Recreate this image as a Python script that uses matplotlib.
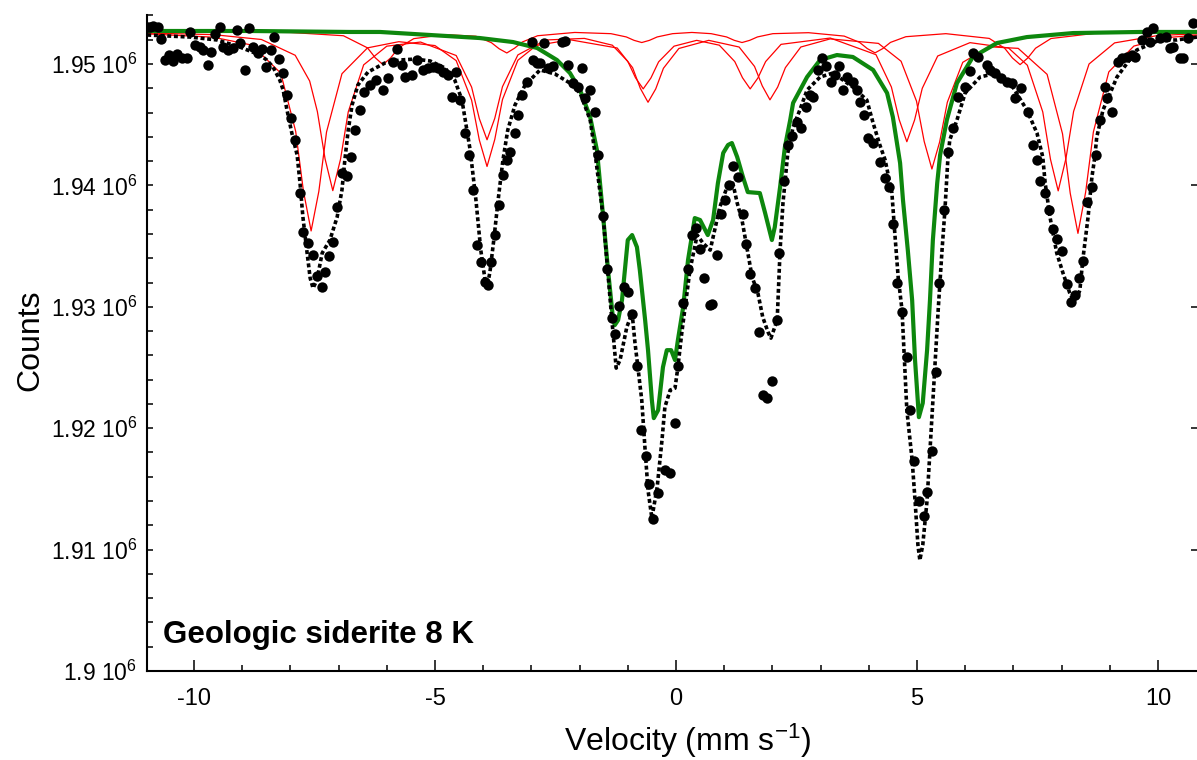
import matplotlib
matplotlib.use("Agg")
import matplotlib.pyplot as plt
from matplotlib.ticker import MultipleLocator, FuncFormatter

plt.rcParams['font.family'] = ['Liberation Sans', 'DejaVu Sans']
plt.rcParams['mathtext.default'] = 'regular'
plt.rcParams['axes.unicode_minus'] = False

# counts are stored in thousands

# measured spectrum (dots)
dot_vel = [-10.98, -10.91, -10.85, -10.75, -10.68, -10.60, -10.52, -10.44, -10.35, -10.25,
           -10.15, -10.08, -9.98, -9.88, -9.81, -9.71, -9.65, -9.56, -9.46, -9.40,
           -9.29, -9.19, -9.11, -9.05, -8.94, -8.86, -8.78, -8.67, -8.59, -8.51,
           -8.40, -8.34, -8.24, -8.15, -8.07, -7.99, -7.90, -7.80, -7.74, -7.63,
           -7.53, -7.45, -7.34, -7.28, -7.20, -7.12, -7.03, -6.93, -6.83, -6.74,
           -6.66, -6.56, -6.47, -6.35, -6.22, -6.08, -5.98, -5.87, -5.79, -5.68,
           -5.62, -5.48, -5.37, -5.25, -5.15, -5.04, -4.94, -4.83, -4.73, -4.65,
           -4.56, -4.48, -4.38, -4.29, -4.21, -4.13, -4.05, -3.96, -3.90, -3.84,
           -3.76, -3.67, -3.59, -3.51, -3.44, -3.34, -3.28, -3.20, -3.09, -2.99,
           -2.97, -2.88, -2.82, -2.74, -2.66, -2.55, -2.37, -2.30, -2.24, -2.14,
           -2.03, -1.95, -1.89, -1.78, -1.68, -1.62, -1.51, -1.43, -1.33, -1.27,
           -1.18, -1.08, -1.00, -0.91, -0.81, -0.73, -0.62, -0.56, -0.48, -0.37,
           -0.23, -0.12, -0.02, 0.04, 0.15, 0.25, 0.33, 0.41, 0.50, 0.58,
           0.71, 0.75, 0.85, 0.93, 1.02, 1.10, 1.18, 1.29, 1.39, 1.45,
           1.54, 1.64, 1.72, 1.80, 1.89, 1.99, 2.10, 2.14, 2.24, 2.32,
           2.41, 2.51, 2.59, 2.70, 2.78, 2.84, 2.95, 3.03, 3.11, 3.22,
           3.30, 3.38, 3.46, 3.55, 3.67, 3.76, 3.82, 3.90, 3.98, 4.09,
           4.23, 4.34, 4.42, 4.50, 4.59, 4.69, 4.79, 4.85, 4.94, 5.04,
           5.15, 5.21, 5.31, 5.39, 5.46, 5.56, 5.64, 5.75, 5.85, 6.00,
           6.10, 6.16, 6.27, 6.45, 6.51, 6.62, 6.74, 6.87, 6.97, 7.03,
           7.16, 7.30, 7.41, 7.49, 7.55, 7.66, 7.74, 7.82, 7.90, 8.01,
           8.11, 8.20, 8.28, 8.36, 8.44, 8.53, 8.63, 8.71, 8.80, 8.90,
           8.94, 9.05, 9.17, 9.25, 9.36, 9.46, 9.52, 9.67, 9.77, 9.83,
           9.90, 10.04, 10.17, 10.25, 10.31, 10.46, 10.52, 10.62, 10.73]
dot_counts = [1953.05, 1953.05, 1953.13, 1953.05, 1952.06, 1950.33, 1950.74, 1950.25, 1950.82, 1950.49,
              1950.49, 1952.64, 1951.56, 1951.40, 1951.15, 1949.92, 1950.99, 1952.47, 1953.05, 1951.40,
              1951.15, 1951.32, 1952.80, 1951.73, 1949.51, 1952.97, 1951.40, 1950.91, 1951.23, 1949.75,
              1951.15, 1952.22, 1950.41, 1949.26, 1947.44, 1945.55, 1943.74, 1939.37, 1936.15, 1935.25,
              1934.26, 1932.53, 1931.62, 1932.86, 1934.18, 1935.33, 1938.22, 1941.01, 1940.77, 1942.34,
              1944.56, 1946.21, 1947.69, 1948.27, 1948.68, 1947.86, 1948.85, 1950.16, 1951.23, 1949.92,
              1948.93, 1949.09, 1950.33, 1949.51, 1949.67, 1949.75, 1949.67, 1949.34, 1949.09, 1947.28,
              1949.34, 1947.03, 1944.31, 1942.50, 1939.62, 1935.09, 1933.68, 1932.04, 1931.79, 1933.68,
              1935.91, 1938.38, 1940.85, 1942.09, 1942.75, 1944.31, 1945.79, 1947.44, 1948.51, 1951.81,
              1950.33, 1950.08, 1950.08, 1951.73, 1949.67, 1949.84, 1951.81, 1951.89, 1949.92, 1948.43,
              1948.10, 1949.67, 1947.20, 1947.86, 1946.04, 1942.50, 1937.47, 1933.11, 1929.07, 1927.75,
              1930.06, 1931.62, 1931.21, 1929.40, 1925.11, 1919.84, 1917.70, 1915.39, 1912.51, 1914.65,
              1916.54, 1916.30, 1920.42, 1925.11, 1930.30, 1933.11, 1935.91, 1936.48, 1934.76, 1932.37,
              1930.14, 1930.22, 1934.26, 1937.64, 1938.79, 1940.03, 1941.59, 1940.69, 1937.64, 1935.17,
              1932.70, 1931.54, 1927.92, 1922.72, 1922.47, 1923.88, 1928.91, 1934.43, 1940.36, 1943.33,
              1944.06, 1945.22, 1944.72, 1946.46, 1947.44, 1947.28, 1949.51, 1950.49, 1949.83, 1948.51,
              1949.09, 1949.83, 1947.86, 1948.93, 1948.51, 1947.86, 1946.87, 1945.79, 1943.90, 1943.49,
              1941.92, 1940.60, 1939.86, 1936.81, 1931.95, 1929.56, 1925.86, 1921.49, 1917.29, 1913.99,
              1912.75, 1914.73, 1918.11, 1924.62, 1931.95, 1937.97, 1942.75, 1944.72, 1947.28, 1948.10,
              1949.42, 1950.91, 1950.58, 1949.92, 1949.51, 1949.26, 1948.85, 1948.51, 1948.43, 1947.20,
              1948.02, 1946.04, 1943.33, 1942.09, 1940.36, 1939.37, 1937.97, 1936.40, 1935.58, 1934.59,
              1931.87, 1930.39, 1930.96, 1932.37, 1933.76, 1938.63, 1939.86, 1942.50, 1945.39, 1948.10,
              1947.20, 1946.04, 1950.16, 1950.49, 1950.58, 1950.74, 1950.58, 1951.98, 1952.64, 1951.81,
              1952.97, 1952.14, 1952.22, 1951.32, 1951.40, 1950.49, 1950.49, 1952.14, 1953.38]

# total fit (black dotted)
fit_vel = [-10.97, -10.08, -9.52, -9.05, -8.63, -8.49, -8.36, -8.22, -8.15, -8.07,
           -7.97, -7.86, -7.80, -7.74, -7.66, -7.59, -7.53, -7.45, -7.34, -7.18,
           -7.03, -6.93, -6.87, -6.80, -6.72, -6.60, -6.39, -6.04, -5.73, -5.41,
           -5.10, -4.79, -4.59, -4.44, -4.27, -4.15, -4.05, -3.96, -3.92, -3.86,
           -3.78, -3.69, -3.59, -3.49, -3.34, -3.13, -2.82, -2.51, -2.20, -1.99,
           -1.78, -1.68, -1.51, -1.33, -1.24, -1.16, -1.02, -0.91, -0.85, -0.79,
           -0.71, -0.64, -0.58, -0.50, -0.39, -0.29, -0.23, -0.12, -0.02, 0.04,
           0.12, 0.21, 0.29, 0.44, 0.56, 0.71, 0.77, 0.91, 1.06, 1.18,
           1.27, 1.37, 1.47, 1.58, 1.70, 1.80, 1.91, 1.97, 2.10, 2.16,
           2.22, 2.32, 2.43, 2.57, 2.72, 2.99, 3.26, 3.67, 3.96, 4.09,
           4.23, 4.34, 4.48, 4.54, 4.61, 4.69, 4.79, 4.90, 4.96, 5.02,
           5.06, 5.12, 5.21, 5.27, 5.33, 5.41, 5.44, 5.52, 5.58, 5.64,
           5.68, 5.83, 6.00, 6.31, 6.66, 6.99, 7.28, 7.49, 7.61, 7.66,
           7.76, 7.90, 8.03, 8.17, 8.24, 8.32, 8.38, 8.44, 8.55, 8.63,
           8.69, 8.73, 8.86, 9.15, 9.56, 10.04, 10.39, 10.81]
fit_counts = [1952.39, 1952.22, 1951.98, 1951.40, 1950.74, 1950.33, 1949.75, 1948.68, 1947.86, 1946.21,
              1944.31, 1942.50, 1940.19, 1937.39, 1934.67, 1932.37, 1931.54, 1932.20, 1934.43, 1935.50,
              1937.39, 1939.62, 1942.09, 1944.56, 1946.62, 1948.27, 1949.34, 1950.08, 1950.33, 1950.41,
              1950.25, 1949.67, 1948.68, 1947.03, 1942.91, 1938.79, 1934.67, 1932.20, 1931.62, 1932.86,
              1935.50, 1938.79, 1942.09, 1944.56, 1946.62, 1948.27, 1949.51, 1949.18, 1948.43, 1947.61,
              1945.39, 1942.67, 1937.39, 1928.91, 1924.95, 1925.61, 1928.33, 1929.48, 1927.01, 1925.03,
              1922.31, 1918.19, 1914.90, 1912.59, 1915.14, 1919.02, 1921.74, 1923.14, 1923.30, 1925.03,
              1927.83, 1930.55, 1933.03, 1935.91, 1935.25, 1934.67, 1935.74, 1938.22, 1939.86, 1940.19,
              1938.55, 1937.15, 1934.92, 1932.45, 1931.13, 1929.15, 1927.92, 1927.42, 1928.91, 1934.67,
              1938.55, 1942.67, 1944.81, 1946.21, 1947.86, 1948.93, 1949.26, 1948.10, 1947.03, 1945.14,
              1943.33, 1942.09, 1939.37, 1936.07, 1932.45, 1929.73, 1921.49, 1917.37, 1914.07, 1910.37,
              1909.13, 1910.37, 1914.07, 1918.19, 1922.31, 1927.83, 1929.73, 1934.67, 1937.97, 1942.09,
              1943.74, 1945.39, 1947.61, 1948.93, 1949.26, 1948.10, 1946.21, 1944.31, 1942.34, 1940.19,
              1937.39, 1934.43, 1932.78, 1931.13, 1930.55, 1930.72, 1931.38, 1933.85, 1937.39, 1940.69,
              1942.34, 1943.98, 1946.21, 1948.93, 1951.15, 1951.98, 1951.98, 1952.22]

# green component
green_vel = [-10.97, -8.84, -6.76, -6.14, -5.10, -4.07, -3.38, -2.88, -2.47, -2.20,
             -1.99, -1.78, -1.64, -1.51, -1.41, -1.31, -1.27, -1.20, -1.12, -1.00,
             -0.91, -0.81, -0.75, -0.64, -0.58, -0.50, -0.46, -0.37, -0.27, -0.19,
             -0.10, -0.02, 0.04, 0.15, 0.25, 0.39, 0.50, 0.66, 0.77, 0.87,
             0.98, 1.08, 1.16, 1.27, 1.39, 1.49, 1.74, 1.85, 1.99, 2.05,
             2.16, 2.26, 2.37, 2.43, 2.72, 2.99, 3.34, 3.67, 4.09, 4.38,
             4.50, 4.65, 4.71, 4.81, 4.90, 4.96, 5.04, 5.12, 5.21, 5.27,
             5.33, 5.42, 5.48, 5.62, 5.83, 6.16, 6.66, 7.28, 8.24, 9.63,
             10.81]
green_counts = [1952.72, 1952.72, 1952.64, 1952.64, 1952.39, 1952.14, 1951.81, 1951.32, 1950.33, 1949.26,
                1947.86, 1945.63, 1942.91, 1937.39, 1933.03, 1929.15, 1928.49, 1928.91, 1930.55, 1935.50,
                1935.91, 1934.92, 1933.03, 1928.91, 1926.43, 1922.31, 1920.83, 1921.49, 1925.03, 1926.43,
                1926.43, 1925.61, 1927.26, 1929.98, 1933.85, 1937.31, 1937.15, 1935.91, 1937.15, 1940.19,
                1942.67, 1943.33, 1943.49, 1942.34, 1940.69, 1939.45, 1939.37, 1937.72, 1935.50, 1936.57,
                1939.86, 1943.16, 1945.39, 1946.79, 1948.93, 1950.33, 1950.74, 1950.58, 1949.51, 1947.61,
                1945.63, 1941.84, 1938.79, 1934.67, 1930.55, 1925.61, 1920.91, 1922.07, 1926.43, 1930.55,
                1935.50, 1940.19, 1942.50, 1945.39, 1948.43, 1950.58, 1951.73, 1952.22, 1952.55, 1952.64,
                1952.64]

# red sextets
sextA_vel = [-10.95, -9.6, -8.8, -8.2, -7.89, -7.73, -7.57, -7.41, -7.25, -6.93,
             -6.4, -5.75, -5.0, -4.56, -4.24, -4.08, -3.92, -3.76, -3.60, -3.28,
             -2.9, -2.2, -1.22, -0.90, -0.74, -0.58, -0.42, -0.26, 0.06, 0.68,
             1.31, 1.63, 1.79, 1.95, 2.11, 2.27, 2.59, 3.2, 4.2, 4.67,
             4.99, 5.15, 5.31, 5.47, 5.63, 5.95, 6.5, 7.1, 7.7, 8.02,
             8.18, 8.34, 8.50, 8.66, 8.98, 9.5, 10.2, 10.8]
sextA_counts = [1952.48, 1952.21, 1951.56, 1949.25, 1944.45, 1939.55, 1936.25, 1939.5, 1944.4, 1949.2,
                1951.33, 1951.84, 1951.52, 1950.28, 1947.02, 1943.74, 1941.56, 1943.78, 1947.07, 1950.31,
                1951.52, 1952.0, 1951.32, 1949.7, 1948.0, 1946.85, 1947.95, 1949.65, 1951.28, 1951.95,
                1951.4, 1949.8, 1948.2, 1947.05, 1948.1, 1949.7, 1951.4, 1952.07, 1951.7, 1950.23,
                1946.95, 1943.62, 1941.35, 1943.57, 1946.85, 1950.14, 1951.42, 1951.29, 1949.15, 1944.25,
                1939.35, 1936.05, 1939.45, 1944.4, 1949.35, 1951.48, 1952.18, 1952.38]

sextB_vel = [-10.95, -9.6, -8.6, -7.9, -7.6, -7.44, -7.28, -7.12, -6.96, -6.80,
             -6.48, -6.0, -5.3, -4.56, -4.24, -4.08, -3.92, -3.76, -3.60, -3.28,
             -2.7, -1.9, -1.32, -1.0, -0.84, -0.68, -0.52, -0.36, -0.04, 0.43,
             0.90, 1.22, 1.38, 1.54, 1.70, 1.86, 2.18, 3.2, 4.15, 4.47,
             4.63, 4.79, 4.95, 5.11, 5.43, 6.1, 6.9, 7.29, 7.61, 7.77,
             7.93, 8.09, 8.25, 8.57, 9.1, 10.0, 10.8]
sextB_counts = [1952.55, 1952.42, 1952.02, 1950.72, 1948.6, 1946.08, 1942.18, 1939.57, 1942.15, 1946.05,
                1949.93, 1951.47, 1951.81, 1950.7, 1948.1, 1945.5, 1943.76, 1945.52, 1948.13, 1950.75,
                1951.98, 1952.11, 1951.55, 1950.22, 1948.87, 1947.95, 1948.85, 1950.18, 1951.47, 1951.95,
                1951.55, 1950.2, 1948.87, 1947.95, 1948.85, 1950.2, 1951.62, 1952.14, 1950.77, 1948.1,
                1945.43, 1943.6, 1945.38, 1948.0, 1950.66, 1951.76, 1951.32, 1949.9, 1946.05, 1942.15,
                1939.55, 1942.2, 1946.1, 1950.0, 1951.74, 1952.35, 1952.49]

sextC_vel = [-10.95, -8.0, -6.9, -6.4, -6.24, -6.08, -5.92, -5.76, -5.44, -4.8,
             -4.15, -3.83, -3.67, -3.51, -3.35, -3.19, -2.87, -2.1, -1.35, -1.03,
             -0.87, -0.71, -0.55, -0.39, -0.07, 0.33, 0.73, 1.05, 1.21, 1.37,
             1.53, 1.69, 2.01, 2.75, 3.49, 3.81, 3.97, 4.13, 4.29, 4.45,
             4.77, 5.6, 6.5, 6.82, 6.98, 7.14, 7.30, 7.46, 7.78, 8.8,
             10.8]
sextC_counts = [1952.68, 1952.6, 1952.33, 1951.33, 1950.52, 1949.95, 1950.5, 1951.32, 1952.09, 1952.42,
                1952.29, 1951.76, 1951.26, 1950.91, 1951.3, 1951.81, 1952.33, 1952.6, 1952.5, 1952.23,
                1951.95, 1951.77, 1951.95, 1952.23, 1952.5, 1952.6, 1952.5, 1952.23, 1951.95, 1951.77,
                1951.95, 1952.23, 1952.5, 1952.58, 1952.3, 1951.78, 1951.27, 1950.92, 1951.27, 1951.78,
                1952.25, 1952.5, 1952.11, 1951.3, 1950.5, 1949.95, 1950.5, 1951.3, 1952.1, 1952.58,
                1952.67]


def full(vals):
    return [v * 1000 for v in vals]


fig = plt.figure(figsize=(11.97, 7.6), dpi=100)
ax = fig.add_axes([0.1228, 0.1171, 0.8772, 0.8632])

for v, c in [(sextA_vel, sextA_counts), (sextB_vel, sextB_counts), (sextC_vel, sextC_counts)]:
    ax.plot(v, full(c), color='#ff0000', lw=0.9, zorder=1)
ax.plot(green_vel, full(green_counts), color='#0d870d', lw=3.0, zorder=2)
ax.plot(fit_vel, full(fit_counts), color='black', lw=2.6, ls=(0, (1.1, 0.75)), zorder=3)
ax.scatter(dot_vel, full(dot_counts), s=56, c='black', linewidths=0, zorder=4)

ax.set_xlim(-10.975, 10.81)
ax.set_ylim(1.900e6, 1.95404e6)

ax.spines['top'].set_visible(False)
ax.spines['right'].set_visible(False)
ax.spines['left'].set_linewidth(1.5)
ax.spines['bottom'].set_linewidth(1.5)

ax.xaxis.set_major_locator(MultipleLocator(5))
ax.xaxis.set_minor_locator(MultipleLocator(1))
ax.yaxis.set_major_locator(MultipleLocator(10000))
ax.yaxis.set_minor_locator(MultipleLocator(2000))
ax.yaxis.set_major_formatter(FuncFormatter(lambda v, p: "%g 10$^{6}$" % round(v / 1e6, 2)))

ax.tick_params(axis='x', which='major', direction='in', length=8, width=1.1, labelsize=17, pad=12)
ax.tick_params(axis='x', which='minor', direction='in', length=4.3, width=1.1)
ax.tick_params(axis='y', which='major', direction='in', length=4.5, width=1.1, labelsize=16.5, pad=7,
               right=True)
ax.tick_params(axis='y', which='minor', direction='in', length=4, width=1.1)

ax.set_xlabel("Velocity (mm s$^{-1}$)", fontsize=23)
ax.set_ylabel("Counts", fontsize=23)
ax.xaxis.set_label_coords(0.515, -0.078)
ax.yaxis.set_label_coords(-0.097, 0.5046)

ax.text(0.0152, 0.0427, "Geologic siderite 8 K", transform=ax.transAxes,
        fontsize=22.5, fontweight='bold', va='baseline')

fig.savefig('out.png', dpi=100)
